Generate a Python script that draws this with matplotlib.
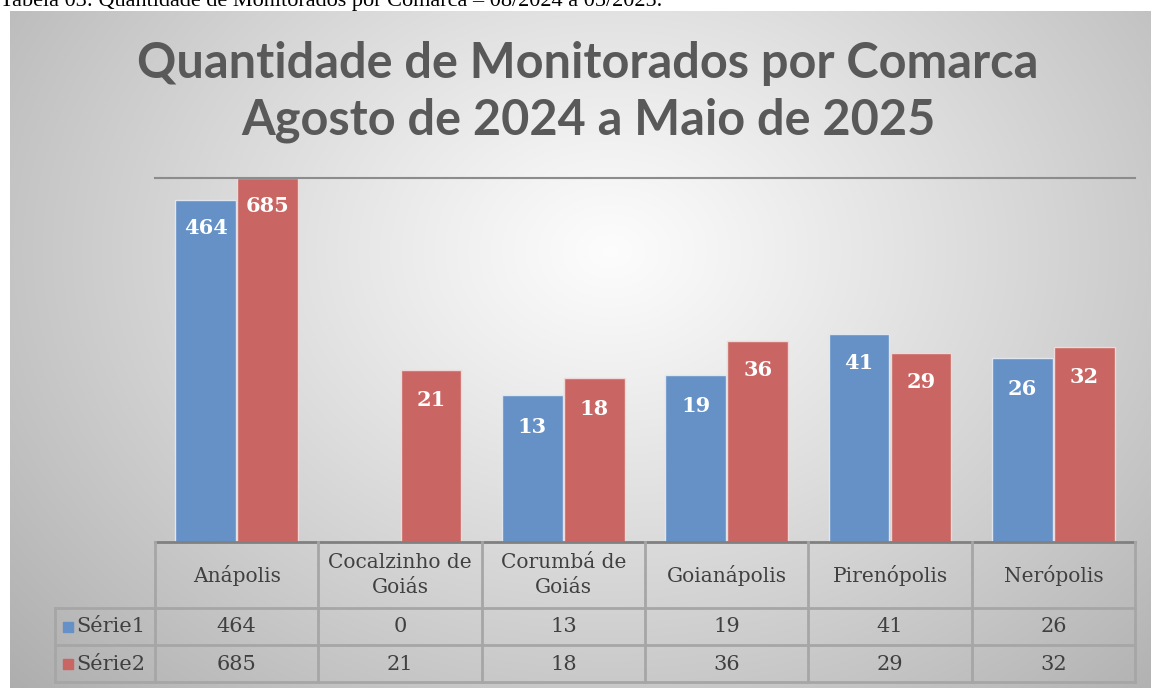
import numpy as np
import matplotlib.pyplot as plt

# dados do gráfico
comarcas = ["Anápolis", "Cocalzinho de\nGoiás", "Corumbá de\nGoiás", "Goianápolis", "Pirenópolis", "Nerópolis"]
serie1 = [464, 0, 13, 19, 41, 26]
serie2 = [685, 21, 18, 36, 29, 32]
nomes_series = ["Série1", "Série2"]
cores = ["#6591c7", "#c96663"]

W, H = 1151, 688
fig = plt.figure(figsize=(W / 100, H / 100), dpi=100)

def fx(px):
    return px / W

def fy(py):
    return 1 - py / H

# fundo com gradiente radial
bg = fig.add_axes([fx(10), 0, fx(1141), 677 / H])
yy, xx = np.mgrid[0:677, 0:1141]
r = np.sqrt(((xx - 600) / 800) ** 2 + ((yy - 240) / 620) ** 2)
g = np.clip(0.99 - 0.30 * r ** 1.1, 0, 1)
bg.imshow(np.dstack([g, g, g]), aspect="auto", extent=[0, 1, 0, 1])
bg.set_axis_off()

fig.text(0, fy(6), "Tabela 03: Quantidade de Monitorados por Comarca – 08/2024 a 05/2025.",
         fontsize=16, family="Liberation Serif", va="baseline", ha="left", color="black")

fig.text(fx(588), fy(63), "Quantidade de Monitorados por Comarca", fontsize=35,
         family="Lato", fontweight="bold", color="#595959", ha="center", va="center")
fig.text(fx(588), fy(120), "Agosto de 2024 a Maio de 2025", fontsize=35,
         family="Lato", fontweight="bold", color="#595959", ha="center", va="center")

# area do gráfico
top, base = 178, 542
ax = fig.add_axes([fx(155), fy(base), fx(980), (base - top) / H])
ax.patch.set_alpha(0)
ax.set_yscale("log")
ax.set_ylim(1, 690)
ax.set_xlim(0, 6)
x = np.arange(6) + 0.5
w = 0.37
for k, (vals, cor) in enumerate(zip([serie1, serie2], cores)):
    xs = x + (k - 0.5) * (w + 0.01)
    for xi, v in zip(xs, vals):
        if v <= 0:
            continue
        ax.bar(xi, v, width=w, bottom=1, color=cor, edgecolor="#dfe6ef" if k == 0 else "#f0d8d8",
               linewidth=1)
        ax.annotate(str(v), (xi, v), xytext=(0, -28), textcoords="offset pixels",
                    ha="center", va="center", color="white", fontsize=15,
                    family="DejaVu Serif", fontweight="bold")
ax.set_xticks([])
ax.set_yticks([])
ax.minorticks_off()
for s in ["left", "right", "bottom"]:
    ax.spines[s].set_visible(False)
ax.spines["top"].set_color("#8c8c8c")
ax.spines["top"].set_linewidth(1.5)

# tabela de dados
lines = fig.add_axes([0, 0, 1, 1])
lines.set_xlim(0, W)
lines.set_ylim(H, 0)
lines.set_axis_off()
lines.patch.set_alpha(0)
col = [155 + i * 980 / 6 for i in range(7)]
rows = [542, 608, 645, 682]
lc = "#a6a6a6"
lines.plot([155, 1135], [542, 542], color="#808080", lw=2)
for yv in rows[1:]:
    lines.plot([55, 1135], [yv, yv], color=lc, lw=2)
for xv in col:
    lines.plot([xv, xv], [542, 682], color=lc, lw=2)
lines.plot([55, 55], [608, 682], color=lc, lw=2)

tc = "#404040"
fs = 15
for i, nome in enumerate(comarcas):
    cx = (col[i] + col[i + 1]) / 2
    lines.text(cx, 575, nome, ha="center", va="center", fontsize=14.5, family="DejaVu Serif",
               color=tc, linespacing=1.4)
    lines.text(cx, 627, str(serie1[i]), ha="center", va="center", fontsize=fs,
               family="DejaVu Serif", color=tc)
    lines.text(cx, 664, str(serie2[i]), ha="center", va="center", fontsize=fs,
               family="DejaVu Serif", color=tc)
for yc, nome, cor in zip([627, 664], nomes_series, cores):
    lines.add_patch(plt.Rectangle((63, yc - 5), 10, 10, color=cor))
    lines.text(76, yc, nome, ha="left", va="center", fontsize=fs, family="DejaVu Serif", color=tc)

fig.savefig("out.png", dpi=100)
